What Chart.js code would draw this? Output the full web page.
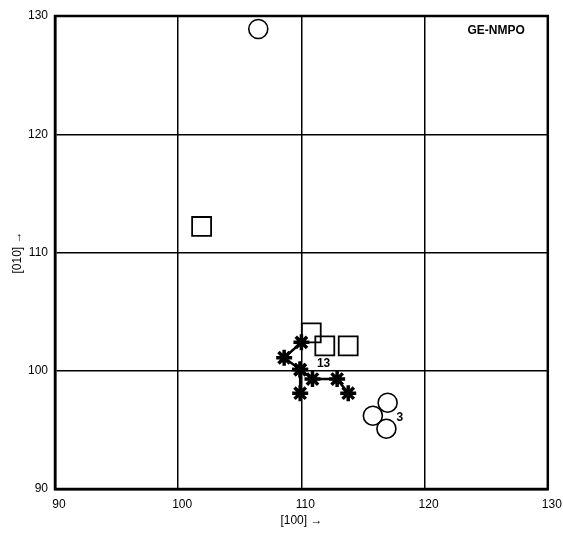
<!DOCTYPE html>
<html>
<head>
<meta charset="utf-8">
<script src="https://cdn.jsdelivr.net/npm/chart.js@4"></script>
<style>
  html, body { margin: 0; padding: 0; background: #fff; }
  #wrap { width: 563px; height: 534px; }
</style>
</head>
<body>
<div id="wrap"><canvas id="chart-canvas"></canvas></div>
<script>
// values ([100] vs [010])
var circleX = [106.5, 117.0, 115.8, 116.9];
var circleY = [128.9, 97.3, 96.2, 95.1];

var squareX = [101.9, 110.8, 111.9, 113.8];
var squareY = [112.2, 103.2, 102.1, 102.1];

// path of asterisks, joined in this order
var pathX = [110.0, 108.6, 109.9, 110.9, 112.9, 113.8];
var pathY = [102.4, 101.1, 100.1, 99.3, 99.3, 98.1];
// short branch down from the third point
var branchX = [109.9, 109.9];
var branchY = [100.1, 98.1];

var tickValues = [90, 100, 110, 120, 130];

var notes = [
    { text: "13", x: 111.8, y: 100.6 },
    { text: "3", x: 118.0, y: 96.0 },
    { text: "GE-NMPO", x: 125.8, y: 128.8 }
];

function toPoints(xs, ys) {
    return xs.map(function (x, i) { return { x: x, y: ys[i] }; });
}

var FONT = "'Liberation Sans', Arial, sans-serif";

// box round the plot + text notes
var framePlugin = {
    id: 'frame',
    afterDatasetsDraw: function (chart) {
        var a = chart.chartArea, c = chart.ctx;
        c.save();
        c.strokeStyle = '#000';
        c.lineWidth = 2.5;
        c.strokeRect(a.left, a.top, a.right - a.left, a.bottom - a.top);
        c.fillStyle = '#000';
        c.font = 'bold 12px ' + FONT;
        c.textAlign = 'center';
        c.textBaseline = 'middle';
        notes.forEach(function (n) {
            c.fillText(n.text, chart.scales.x.getPixelForValue(n.x), chart.scales.y.getPixelForValue(n.y));
        });
        c.restore();
    }
};

var ctx = document.getElementById('chart-canvas').getContext('2d');
var myChart = new Chart(ctx, {
    type: 'scatter',
    data: {
        datasets: [
            {
                label: "path",
                data: toPoints(pathX, pathY),
                showLine: true,
                borderColor: "#000",
                borderWidth: 2.5,
                pointStyle: 'star',
                pointRadius: 8,
                pointBorderWidth: 3.5,
                pointBorderColor: "#000",
                pointBackgroundColor: "#000"
            },
            {
                label: "branch",
                data: toPoints(branchX, branchY),
                showLine: true,
                borderColor: "#000",
                borderWidth: 2.5,
                pointStyle: 'star',
                pointRadius: 8,
                pointBorderWidth: 3.5,
                pointBorderColor: "#000"
            },
            {
                label: "squares",
                data: toPoints(squareX, squareY),
                pointStyle: 'rect',
                pointRadius: 13.4,
                pointBorderWidth: 1.8,
                pointBorderColor: "#000",
                pointBackgroundColor: "rgba(255,255,255,0)"
            },
            {
                label: "circles",
                data: toPoints(circleX, circleY),
                pointStyle: 'circle',
                pointRadius: 9.5,
                pointBorderWidth: 1.6,
                pointBorderColor: "#000",
                pointBackgroundColor: "rgba(255,255,255,0)"
            }
        ]
    },
    options: {
        responsive: true,
        maintainAspectRatio: false,
        animation: false,
        layout: { padding: { top: 16, right: 14, left: 0, bottom: 0 } },
        plugins: {
            legend: { display: false },
            tooltip: { enabled: false }
        },
        scales: {
            x: {
                type: 'linear',
                min: 90,
                max: 130,
                afterBuildTicks: function (s) { s.ticks = tickValues.map(function (v) { return { value: v }; }); },
                afterFit: function (s) { s.height = 45; s.paddingLeft = 0; s.paddingRight = 0; },
                ticks: { color: '#000', padding: 8, labelOffset: 4, font: { family: FONT, size: 12 } },
                grid: { color: '#000', lineWidth: 1.5, drawTicks: false },
                border: { color: '#000', width: 2.5 },
                title: {
                    display: true,
                    text: '[100] →',
                    color: '#000',
                    font: { family: FONT, size: 12 },
                    padding: { top: 0, bottom: 6 }
                }
            },
            y: {
                type: 'linear',
                min: 90,
                max: 130,
                afterBuildTicks: function (s) { s.ticks = tickValues.map(function (v) { return { value: v }; }); },
                afterFit: function (s) { s.width = 55; s.paddingTop = 0; s.paddingBottom = 0; },
                ticks: { color: '#000', padding: 7, font: { family: FONT, size: 12 } },
                grid: { color: '#000', lineWidth: 1.5, drawTicks: false },
                border: { color: '#000', width: 2.5 },
                title: {
                    display: true,
                    text: '[010] →',
                    color: '#000',
                    font: { family: FONT, size: 12 },
                    padding: { top: 10, bottom: 0 }
                }
            }
        }
    },
    plugins: [framePlugin]
});
</script>
</body>
</html>
